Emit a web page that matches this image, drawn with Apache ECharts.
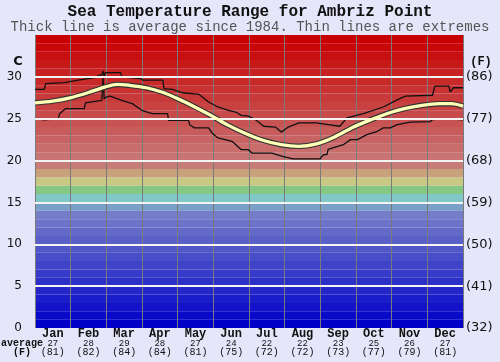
<!DOCTYPE html>
<html><head><meta charset="utf-8">
<script src="https://cdn.jsdelivr.net/npm/echarts@6/dist/echarts.min.js"></script>
<style>html,body{margin:0;padding:0;background:#e6e6fa}#c{width:500px;height:362px}</style>
</head><body><div id="c"></div><script>
// ---- data ----
const months=['Jan','Feb','Mar','Apr','May','Jun','Jul','Aug','Sep','Oct','Nov','Dec'];
const monthAvgC=[27,28,29,28,27,24,22,22,23,25,26,27];
const monthAvgF=[81,82,84,84,81,75,72,72,73,77,79,81];
const cTicks=[0,5,10,15,20,25,30];
const fTicks=['(32)','(41)','(50)','(59)','(68)','(77)','(86)'];
const avgLine=[[0,26.9],[15,27.1],[30,27.5],[45,28.1],[60,28.8],[70,29.1],[80,29.0],[95,28.7],[110,28.1],[120,27.5],[135,26.5],[150,25.4],[165,24.2],[180,23.2],[195,22.4],[210,21.9],[225,21.7],[240,22.0],[255,22.8],[270,23.9],[285,24.8],[300,25.6],[315,26.2],[330,26.6],[345,26.8],[355,26.8],[365,26.5]];
const maxLine=[[0,28.5],[8,28.5],[9,29.2],[25,29.3],[37,29.6],[51,29.9],[55,30.2],[57,30.2],[58,30.7],[59,30.1],[60,30.5],[73,30.5],[74,30.0],[90,29.8],[92,29.6],[109,29.6],[110,28.6],[117,28.5],[126,28.1],[140,27.9],[148,27.0],[156,26.4],[165,26.0],[171,25.8],[176,25.4],[182,25.3],[189,24.8],[195,24.1],[205,24.0],[210,23.4],[216,24.0],[225,24.5],[240,24.5],[250,24.3],[260,24.1],[266,25.1],[280,25.6],[297,26.4],[311,27.4],[316,27.7],[339,27.8],[341,28.9],[353,28.9],[354,28.2],[357,28.7],[365,28.7]];
const minLine=[[0,25.05],[8,24.85],[20,25.0],[21,25.6],[26,26.2],[42,26.2],[43,26.9],[57,27.2],[58,30.0],[59,27.4],[61,27.6],[64,27.7],[74,27.2],[83,26.8],[91,26.0],[100,25.6],[113,25.6],[114,24.8],[131,24.8],[132,24.25],[136,23.9],[148,23.9],[151,23.3],[156,22.7],[168,22.3],[176,21.3],[182,21.3],[185,20.9],[202,20.9],[211,20.5],[220,20.2],[243,20.2],[246,20.7],[249,20.7],[250,21.35],[263,21.9],[269,22.5],[275,22.5],[283,23.1],[292,23.5],[297,23.9],[303,23.9],[309,24.3],[320,24.6],[337,24.65],[339,24.9],[351,25.0],[365,24.85]];

// ---- styles ----
const bandColors=[];
for(let i=0;i<35;i++){
  let c;
  if(i<14){const r=Math.round(i*9),g=Math.round(i*9.6);c=`rgb(${r},${g},200)`;}
  else if(i===14)c='#78a0c8';
  else if(i===15)c='#80c8c8';
  else if(i===16)c='#84c884';
  else if(i===17)c='#c8c884';
  else if(i===18)c='#c8a07c';
  else if(i===19)c='#c87c78';
  else{const v=Math.max(0,Math.round(116-(i-20)*8.3));c=`rgb(200,${v},${v})`;}
  bandColors.push(c);
}
const bandData=bandColors.map((c,i)=>[{yAxis:i,itemStyle:{color:c}},{yAxis:i+1}]);

const chart=echarts.init(document.getElementById('c'),null,{renderer:'canvas'});
const mono="'Liberation Mono','Courier New',monospace";
chart.setOption({
  backgroundColor:'#e6e6fa',
  animation:false,
  grid:{left:35,right:37,top:35,bottom:34},
  xAxis:[
    {type:'value',min:0,max:365,show:false},
    {type:'category',data:months,boundaryGap:true,position:'bottom',z:2,
     axisLine:{show:false},axisTick:{show:false},
     splitLine:{show:true,lineStyle:{color:'#7a7a7a',width:1}},
     axisLabel:{margin:1,interval:0,
       formatter:(v,i)=>`{m|${v}}\n{c|${monthAvgC[i]}}\n{f|(${monthAvgF[i]})}`,
       rich:{m:{fontFamily:mono,fontSize:12,fontWeight:'bold',color:'#111',lineHeight:10},
             c:{fontFamily:mono,fontSize:9,color:'#111',lineHeight:9},
             f:{fontFamily:mono,fontSize:10,color:'#111',lineHeight:9}}}}
  ],
  yAxis:[
    {type:'value',min:0,max:35,interval:5,position:'left',
     axisLine:{show:false},axisTick:{show:false},splitLine:{show:false},
     axisLabel:{margin:13,fontFamily:'DejaVu Sans',fontSize:12,color:'#111',
       formatter:v=>cTicks.indexOf(v)>=0?String(v):''}},
    {type:'value',min:0,max:35,interval:5,position:'right',
     axisLine:{show:false},axisTick:{show:false},splitLine:{show:false},
     axisLabel:{margin:3,fontFamily:'DejaVu Sans',fontSize:13,color:'#111',
       formatter:v=>{const k=cTicks.indexOf(v);return k>=0?fTicks[k]:'';}}}
  ],
  graphic:[
    {type:'text',left:'center',top:4,style:{text:'Sea Temperature Range for Ambriz Point',font:"bold 16px "+mono,fill:'#111'}},
    {type:'text',left:'center',top:20,style:{text:'Thick line is average since 1984. Thin lines are extremes',font:"14px "+mono,fill:'#555'}},
    {type:'text',x:18,y:62,style:{text:'C',font:"bold 13px 'DejaVu Sans'",fill:'#111',align:'center',verticalAlign:'middle'}},
    {type:'text',x:481,y:62,style:{text:'(F)',font:"bold 12px "+mono,fill:'#111',align:'center',verticalAlign:'middle'}},
    {type:'text',x:22,y:343,style:{text:'average',font:"bold 10px "+mono,fill:'#111',align:'center',verticalAlign:'middle'}},
    {type:'text',x:22,y:352.5,style:{text:'(F)',font:"bold 10px "+mono,fill:'#111',align:'center',verticalAlign:'middle'}}
  ],
  series:[
    {type:'line',name:'bands',xAxisIndex:0,yAxisIndex:0,data:[],z:1,silent:true,
     markArea:{silent:true,data:bandData},
     markLine:{silent:true,symbol:'none',label:{show:false},
       lineStyle:{color:'#f4f4f4',width:2,type:'solid'},
       data:cTicks.filter(v=>v>0).map(v=>({yAxis:v}))}},
    {type:'line',name:'max',xAxisIndex:0,yAxisIndex:0,data:maxLine,z:3,showSymbol:false,symbol:'none',
     lineStyle:{color:'#111',width:1.3}},
    {type:'line',name:'min',xAxisIndex:0,yAxisIndex:0,data:minLine,z:3,showSymbol:false,symbol:'none',
     lineStyle:{color:'#111',width:1.3}},
    {type:'line',name:'avgOutline',xAxisIndex:0,yAxisIndex:0,data:avgLine,z:4,showSymbol:false,symbol:'none',smooth:0.3,
     lineStyle:{color:'#333',width:5.5}},
    {type:'line',name:'avg',xAxisIndex:0,yAxisIndex:0,data:avgLine,z:5,showSymbol:false,symbol:'none',smooth:0.3,
     lineStyle:{color:'#ffffb8',width:3.3}}
  ]
});
</script></body></html>
